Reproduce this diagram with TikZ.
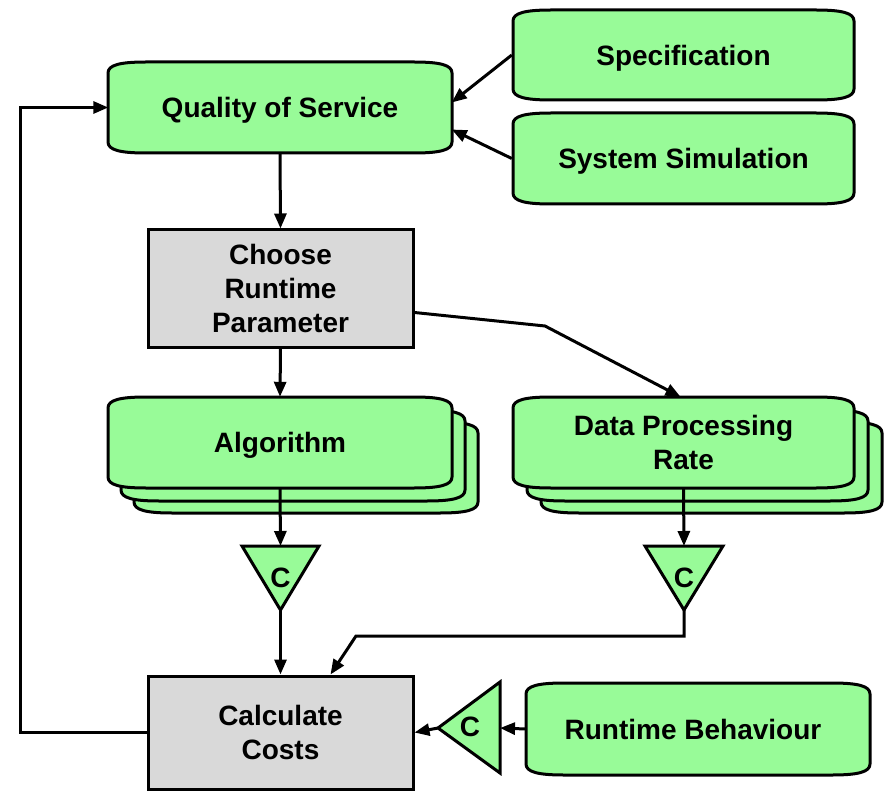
\documentclass[tikz,border=0pt]{standalone}
\usepackage{fontspec}
\setmainfont{Liberation Sans}
\usetikzlibrary{arrows.meta}
\definecolor{boxgreen}{RGB}{152,251,152}
\definecolor{boxgray}{RGB}{217,217,217}

% green box with softly curved corners: left, top, right, bottom
\newcommand\gshape[4]{%
  \filldraw[gshp] (#1,#2+11) .. controls (#1,#2+3) and (#1+12,#2) .. (#1+38,#2)
   -- (#3-38,#2) .. controls (#3-12,#2) and (#3,#2+3) .. (#3,#2+11)
   -- (#3,#4-11) .. controls (#3,#4-3) and (#3-12,#4) .. (#3-38,#4)
   -- (#1+38,#4) .. controls (#1+12,#4) and (#1,#4-3) .. (#1,#4-11) -- cycle;}

\tikzset{
  lbl/.style={font=\fontsize{28}{34}\selectfont\bfseries, align=center, inner sep=0pt},
  gshp/.style={draw=black, fill=boxgreen, line width=3pt, line join=round},
  gtext/.style={lbl, text depth=0pt, minimum width=343pt, minimum height=91pt},
  graybox/.style={lbl, draw=black, fill=boxgray, line width=3pt, minimum width=265pt},
  tri/.style={draw=black, fill=boxgreen, line width=3pt, line join=miter},
  arr/.style={line width=3pt, line join=miter, -{Triangle[length=15pt,width=12pt]}},
}

\begin{document}
\begin{tikzpicture}[x=1pt,y=-1pt]
\useasboundingbox (0,0) rectangle (885,791);

% green boxes
\gshape{108}{62}{452}{153}
\node[gtext] (qos) at (280,107.5) {Quality of Service};

\gshape{513}{10}{854}{100}
\node[gtext] (spec) at (683.5,55) {Specification};

\gshape{513}{113}{854}{204}
\node[gtext] (sim) at (683.5,158.5) {System Simulation};

% stacked boxes
\gshape{134}{422}{478}{513}
\gshape{121}{410}{465}{501}
\gshape{108}{397}{452}{488}
\node[gtext] (algo) at (280,442.5) {Algorithm};

\gshape{541}{422}{882}{513}
\gshape{527}{410}{868}{501}
\gshape{513}{397}{854}{488}
\node[gtext] (dpr) at (683.5,442.5) {Data Processing\\Rate};

\gshape{526}{683}{870}{775}
\node[gtext, minimum width=334pt] (rb) at (693,729) {Runtime Behaviour};

% grey process boxes
\node[graybox, minimum height=117pt] (choose) at (280.5,288.5) {Choose\\Runtime\\Parameter};
\node[graybox, minimum height=113pt] (calc) at (280.5,732.5) {Calculate\\Costs};

% conversion triangles
\draw[tri] (242,546) -- (319,546) -- (280.5,610) -- cycle;
\coordinate (c1in) at (280.5,546);
\coordinate (c1out) at (280.5,610);
\node[lbl] (c1) at (280.5,578) {C};

\draw[tri] (645,546) -- (723,546) -- (684,610) -- cycle;
\coordinate (c2in) at (684,546);
\coordinate (c2out) at (684,610);
\node[lbl] (c2) at (684,578) {C};

\draw[tri] (500,682) -- (500,773) -- (438,728) -- cycle;
\coordinate (c3in) at (500,728);
\coordinate (c3out) at (438,728);
\node[lbl] (c3) at (470,727) {C};

% connectors
\draw[arr] (spec.west) -- ([yshift=5pt]qos.east);
\draw[arr] (sim.west) -- ([yshift=-22pt]qos.east);
\draw[arr] (qos.south) -- (choose.north);
\draw[arr] (choose.south) -- (algo.north);
\draw[arr] ([yshift=-24pt]choose.east) -- (545,326) -- ([xshift=-3pt]dpr.north);
\draw[arr] (algo.south) -- (c1in);
\draw[arr] (dpr.south) -- (c2in);
\draw[arr] (c1out) -- (calc.north);
\draw[arr] (c2out) |- (356,636) -- ([xshift=50pt]calc.north);
\draw[arr] (rb.west) -- (c3in);
\draw[arr] (c3out) -- (calc.east);
\draw[arr] (calc.west) -- (20,732.5) |- (qos.west);
\end{tikzpicture}
\end{document}
